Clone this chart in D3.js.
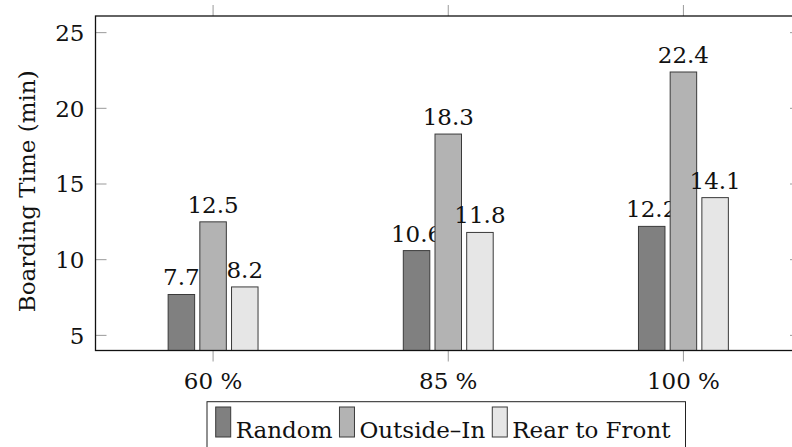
<!DOCTYPE html>
<html>
<head>
<meta charset="utf-8">
<script src="https://cdn.jsdelivr.net/npm/d3@7"></script>
<style>
  html, body { margin: 0; padding: 0; background: #fff; }
  svg { display: block; }
  text { font-family: "DejaVu Serif", "Liberation Serif", serif; fill: #111; }
</style>
</head>
<body>
<svg id="chart" width="792" height="447"></svg>
<script>
const categories = ["60 %", "85 %", "100 %"];
const seriesNames = ["Random", "Outside–In", "Rear to Front"];
const randomVals = [7.7, 10.6, 12.2];
const outsideInVals = [12.5, 18.3, 22.4];
const rearToFrontVals = [8.2, 11.8, 14.1];
const yTicks = [5, 10, 15, 20, 25];
const yLabel = "Boarding Time (min)";

const seriesColors = ["#808080", "#b3b3b3", "#e6e6e6"];
const seriesValues = [randomVals, outsideInVals, rearToFrontVals];

const svg = d3.select("#chart");
const pL = 95.5, pR = 801, pT = 16, pB = 350.5;
const fontSize = 23;

const x = d3.scalePoint().domain(categories).range([pL, pR]).padding(0.5);
const xs = d3.scaleBand().domain(seriesNames).range([-44.95, 44.95]).paddingInner(0.164).paddingOuter(0);
const y = d3.scaleLinear().domain([4, 26.1]).range([pB, pT]);

const tickColor = "#9a9a9a";
const tl = 11;
const g = svg.append("g");
yTicks.forEach(v => {
  g.append("line").attr("x1", pL).attr("x2", pL + tl).attr("y1", y(v)).attr("y2", y(v))
    .attr("stroke", tickColor).attr("stroke-width", 1);
  g.append("line").attr("x1", pR).attr("x2", pR - tl).attr("y1", y(v)).attr("y2", y(v))
    .attr("stroke", tickColor).attr("stroke-width", 1);
  g.append("text").attr("x", pL - 11).attr("y", y(v)).attr("dy", "0.36em")
    .attr("text-anchor", "end").attr("font-size", fontSize).text(v);
});
categories.forEach(c => {
  g.append("line").attr("x1", x(c)).attr("x2", x(c)).attr("y1", pT).attr("y2", pT - tl)
    .attr("stroke", tickColor).attr("stroke-width", 1);
  g.append("line").attr("x1", x(c)).attr("x2", x(c)).attr("y1", pB).attr("y2", pB + tl)
    .attr("stroke", tickColor).attr("stroke-width", 1);
  g.append("text").attr("x", x(c)).attr("y", 389).attr("text-anchor", "middle")
    .attr("font-size", fontSize).text(c);
});

seriesNames.forEach((s, si) => {
  const vals = seriesValues[si];
  const bg = svg.append("g");
  bg.selectAll("rect").data(vals).join("rect")
    .attr("x", (d, i) => x(categories[i]) + xs(s))
    .attr("y", d => y(d))
    .attr("width", xs.bandwidth())
    .attr("height", d => pB - y(d))
    .attr("fill", seriesColors[si])
    .attr("stroke", "#3a3a3a").attr("stroke-width", 1);
  bg.selectAll("text").data(vals).join("text")
    .attr("x", (d, i) => x(categories[i]) + xs(s) + xs.bandwidth() / 2)
    .attr("y", d => y(d) - 9)
    .attr("text-anchor", "middle").attr("font-size", fontSize)
    .text(d => d.toFixed(1));
});

svg.append("rect").attr("x", pL).attr("y", pT).attr("width", pR - pL).attr("height", pB - pT)
  .attr("fill", "none").attr("stroke", "#111").attr("stroke-width", 1.3);

svg.append("text").attr("transform", `translate(35,${(pT + pB) / 2 + 8}) rotate(-90)`)
  .attr("text-anchor", "middle").attr("font-size", fontSize).text(yLabel);

const lg = svg.append("g");
const legBox = lg.append("rect").attr("x", 207).attr("y", 401.7).attr("height", 70)
  .attr("fill", "#fff").attr("stroke", "#222").attr("stroke-width", 1);
let cx = 215.7;
seriesNames.forEach((s, si) => {
  lg.append("rect").attr("x", cx).attr("y", 407).attr("width", 15).attr("height", 30)
    .attr("fill", seriesColors[si]).attr("stroke", "#3a3a3a").attr("stroke-width", 1);
  const t = lg.append("text").attr("x", cx + 20).attr("y", 437.5).attr("font-size", fontSize).text(s);
  const w = t.node().getComputedTextLength();
  cx = cx + 20 + w + 7;
});
legBox.attr("width", cx - 7 + 15 - 207);
</script>
</body>
</html>
